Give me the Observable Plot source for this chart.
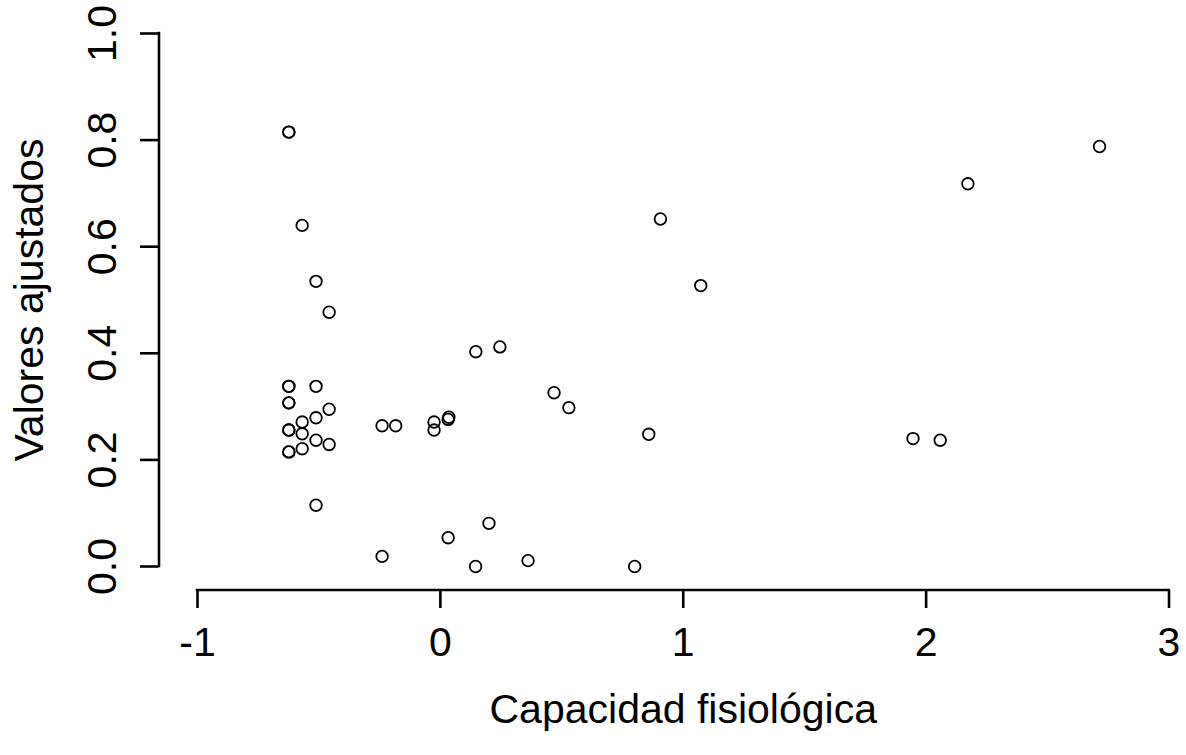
<!DOCTYPE html>
<html>
<head>
<meta charset="utf-8">
<script src="https://cdn.jsdelivr.net/npm/d3@7"></script>
<script src="https://cdn.jsdelivr.net/npm/@observablehq/plot@0.6"></script>
<style>
  html, body { margin: 0; padding: 0; background: #fff; }
  #chart { width: 1186px; height: 755px; }
</style>
</head>
<body>
<div id="chart"></div>
<script>
// Physiological capacity (x) and fitted values (y) for each observation.
// Repeated pairs are separate observations that fall on the same spot.
const capacidad = [
  -0.624, -0.624, -0.569, -0.512, -0.458,
  -0.624, -0.624, -0.512, -0.624, -0.624, -0.458, -0.512, -0.569,
  -0.624, -0.624, -0.569, -0.512, -0.458, -0.569, -0.624, -0.624,
  -0.512, -0.240, -0.184, -0.026, -0.026, 0.032, 0.035,
  0.146, 0.245, 0.468, 0.529, 0.858,
  0.200, 0.032, -0.240, 0.145, 0.361, 0.800,
  0.906, 1.072, 2.172, 1.946, 2.058, 2.714
];
const ajustados = [
  0.815, 0.815, 0.640, 0.535, 0.477,
  0.338, 0.338, 0.338, 0.307, 0.307, 0.295, 0.279, 0.271,
  0.256, 0.256, 0.249, 0.237, 0.229, 0.221, 0.215, 0.215,
  0.115, 0.264, 0.264, 0.271, 0.256, 0.276, 0.280,
  0.403, 0.412, 0.326, 0.298, 0.248,
  0.081, 0.054, 0.019, 0.000, 0.011, 0.000,
  0.652, 0.527, 0.718, 0.240, 0.237, 0.788
];

const xTicks = [-1, 0, 1, 2, 3];
const yTicks = [0.0, 0.2, 0.4, 0.6, 0.8, 1.0];
const xTitle = "Capacidad fisiológica";
const yTitle = "Valores ajustados";

const points = capacidad.map((c, i) => ({capacidad: c, ajustado: ajustados[i]}));

const ink = "black";
const axisWidth = 2.6;
const fontSize = 41;

const chart = Plot.plot({
  width: 1186,
  height: 755,
  marginLeft: 197,
  marginRight: 17.5,
  marginTop: 33,
  marginBottom: 189,
  x: {domain: [xTicks[0], xTicks[xTicks.length - 1]], axis: null},
  y: {domain: [yTicks[0], yTicks[yTicks.length - 1]], axis: null},
  style: {
    fontFamily: "'Liberation Sans', Arial, Helvetica, sans-serif",
    fontSize: fontSize + "px",
    background: "white",
    color: ink
  },
  marks: [
    // bottom axis: line set off below the data region, with outward ticks
    Plot.ruleY([yTicks[0]], {
      x1: xTicks[0], x2: xTicks[xTicks.length - 1],
      dy: 23.5, stroke: ink, strokeWidth: axisWidth, strokeLinecap: "square"
    }),
    Plot.ruleX(xTicks, {
      x: d => d, insetTop: 556.5, insetBottom: -42,
      stroke: ink, strokeWidth: axisWidth
    }),
    Plot.text(xTicks, {
      x: d => d, text: d => String(d),
      frameAnchor: "bottom", lineAnchor: "bottom", dy: 89,
      fontSize, fill: ink
    }),
    // left axis: line set off to the left, labels turned parallel to it
    Plot.ruleX([xTicks[0]], {
      y1: yTicks[0], y2: yTicks[yTicks.length - 1],
      dx: -38.5, stroke: ink, strokeWidth: axisWidth, strokeLinecap: "square"
    }),
    Plot.ruleY(yTicks, {
      y: d => d, insetLeft: -57, insetRight: 1010,
      stroke: ink, strokeWidth: axisWidth
    }),
    Plot.text(yTicks, {
      y: d => d, text: d => d.toFixed(1),
      frameAnchor: "left", rotate: -90, lineAnchor: "bottom", textAnchor: "middle",
      dx: -82, fontSize, fill: ink
    }),
    // axis titles
    Plot.text([xTitle], {
      text: d => d, frameAnchor: "bottom", lineAnchor: "bottom", dy: 156,
      fontSize, fill: ink
    }),
    Plot.text([yTitle], {
      text: d => d, frameAnchor: "left", rotate: -90, lineAnchor: "bottom",
      textAnchor: "middle", dx: -155, fontSize, fill: ink
    }),
    // observations as open circles
    Plot.dot(points, {
      x: "capacidad", y: "ajustado", r: 5.8,
      stroke: ink, strokeWidth: 1.8, fill: "none"
    })
  ]
});

document.getElementById("chart").appendChild(chart);
</script>
</body>
</html>
